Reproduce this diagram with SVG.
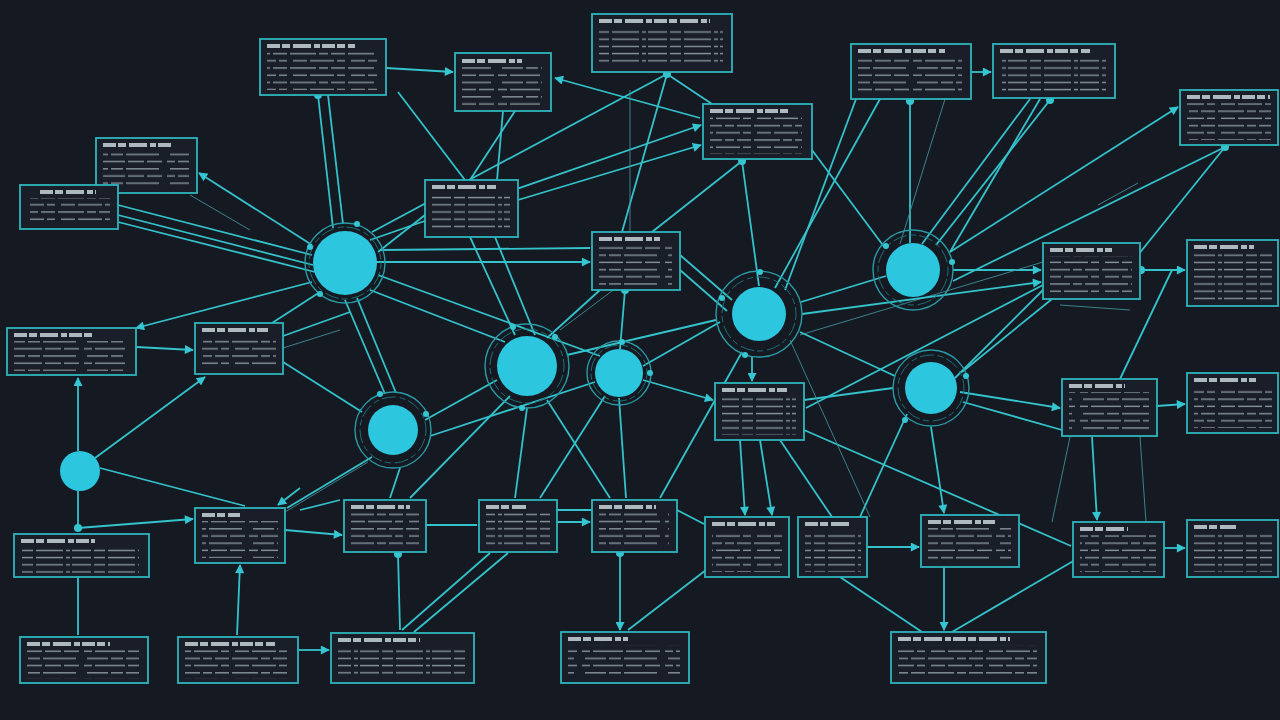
<svg xmlns="http://www.w3.org/2000/svg" width="1280" height="720" viewBox="0 0 1280 720">
<defs>
<style>
.e{stroke:#34c2cb;stroke-width:1.8;fill:none}
.t{stroke:#3f8f98;stroke-width:0.9;fill:none}
.bx{fill:#191e28;stroke:#2fb5bd;stroke-width:1.8}
.ttl{stroke:#aeb9bf;stroke-width:4;stroke-dasharray:13 2 8 3 18 3 6 2}
.bd{fill:url(#tx)}
.bd2{fill:url(#tx2)}
.bd3{fill:url(#tx3)}
.hub{fill:#2cc7df}
.ring{fill:none;stroke:#2a9ba6;stroke-width:1.4}
.ring2{fill:none;stroke:#1f6f78;stroke-width:1;stroke-dasharray:6 3 14 4}
.blob{fill:#34c6d2}
.tl{fill:#86929a}
</style>
<pattern id="tx" width="72" height="7.2" patternUnits="userSpaceOnUse">
<rect class="tl" x="0" y="2.5" width="19" height="1.4"/>
<rect class="tl" x="22" y="2.5" width="11" height="1.4"/>
<rect class="tl" x="36" y="2.5" width="27" height="1.4"/>
<rect class="tl" x="66" y="2.5" width="4" height="1.4"/>
</pattern>
<pattern id="tx2" width="58" height="14.4" patternUnits="userSpaceOnUse">
<rect class="tl" x="3" y="2.5" width="14" height="1.4"/>
<rect class="tl" x="20" y="2.5" width="24" height="1.4"/>
<rect class="tl" x="47" y="2.5" width="8" height="1.4"/>
<rect class="tl" x="0" y="9.7" width="26" height="1.4"/>
<rect class="tl" x="29" y="9.7" width="9" height="1.4"/>
<rect class="tl" x="41" y="9.7" width="14" height="1.4"/>
</pattern>
<pattern id="tx3" width="83" height="14.4" patternUnits="userSpaceOnUse">
<rect class="tl" x="0" y="2.5" width="9" height="1.4"/>
<rect class="tl" x="12" y="2.5" width="30" height="1.4"/>
<rect class="tl" x="45" y="2.5" width="16" height="1.4"/>
<rect class="tl" x="64" y="2.5" width="15" height="1.4"/>
<rect class="tl" x="4" y="9.7" width="21" height="1.4"/>
<rect class="tl" x="28" y="9.7" width="12" height="1.4"/>
<rect class="tl" x="43" y="9.7" width="33" height="1.4"/>
</pattern>
<marker id="ar" viewBox="0 0 10 10" refX="9" refY="5" markerWidth="10" markerHeight="9" markerUnits="userSpaceOnUse" orient="auto-start-reverse">
<path d="M0,0 L10,5 L0,10 z" fill="#34c6d2"/>
</marker>
<marker id="dt" viewBox="0 0 10 10" refX="5" refY="5" markerWidth="8" markerHeight="8" markerUnits="userSpaceOnUse">
<circle cx="5" cy="5" r="5" fill="#34c6d2"/>
</marker>
</defs>
<rect width="1280" height="720" fill="#151922"/>

<g id="connectors">
<line class="e" x1="386" y1="68" x2="453" y2="72" marker-end="url(#ar)"/>
<line class="e" x1="318" y1="95" x2="333" y2="228" marker-start="url(#dt)"/>
<line class="e" x1="328" y1="95" x2="343" y2="224"/>
<line class="e" x1="398" y1="92" x2="465" y2="180"/>
<line class="e" x1="515" y1="111" x2="470" y2="180"/>
<line class="e" x1="503" y1="111" x2="497" y2="180"/>
<line class="e" x1="700" y1="118" x2="555" y2="78" marker-end="url(#ar)"/>
<line class="e" x1="667" y1="74" x2="622" y2="232" marker-start="url(#dt)"/>
<line class="e" x1="667" y1="74" x2="712" y2="104"/>
<line class="e" x1="372" y1="232" x2="667" y2="74"/>
<line class="e" x1="370" y1="240" x2="701" y2="125" marker-end="url(#ar)"/>
<line class="e" x1="518" y1="200" x2="701" y2="145" marker-end="url(#ar)"/>
<line class="t" x1="630" y1="90" x2="630" y2="232"/>
<line class="e" x1="742" y1="161" x2="759" y2="286" marker-start="url(#dt)"/>
<line class="e" x1="742" y1="161" x2="652" y2="232"/>
<line class="e" x1="812" y1="150" x2="885" y2="248"/>
<line class="e" x1="971" y1="72" x2="991" y2="72" marker-end="url(#ar)"/>
<line class="e" x1="910" y1="101" x2="910" y2="243" marker-start="url(#dt)"/>
<line class="e" x1="880" y1="99" x2="775" y2="288"/>
<line class="t" x1="945" y1="99" x2="900" y2="244"/>
<line class="e" x1="785" y1="290" x2="856" y2="99"/>
<line class="e" x1="1050" y1="100" x2="936" y2="245" marker-start="url(#dt)"/>
<line class="e" x1="1030" y1="99" x2="922" y2="244"/>
<line class="e" x1="1040" y1="99" x2="950" y2="252"/>
<line class="e" x1="950" y1="252" x2="1178" y2="107" marker-end="url(#ar)"/>
<line class="e" x1="1225" y1="147" x2="1138" y2="255" marker-start="url(#dt)"/>
<line class="e" x1="1225" y1="147" x2="953" y2="281"/>
<line class="t" x1="1098" y1="205" x2="1138" y2="183"/>
<line class="e" x1="953" y1="270" x2="1041" y2="270" marker-end="url(#ar)"/>
<line class="e" x1="1141" y1="270" x2="1185" y2="270" marker-start="url(#dt)" marker-end="url(#ar)"/>
<line class="e" x1="1172" y1="270" x2="1120" y2="379"/>
<line class="e" x1="1043" y1="290" x2="955" y2="378"/>
<line class="e" x1="1052" y1="299" x2="962" y2="372"/>
<line class="e" x1="1043" y1="285" x2="806" y2="408"/>
<line class="t" x1="1043" y1="262" x2="800" y2="335"/>
<line class="t" x1="1060" y1="305" x2="1130" y2="310"/>
<line class="e" x1="960" y1="392" x2="1060" y2="408" marker-end="url(#ar)"/>
<line class="e" x1="1157" y1="406" x2="1185" y2="404" marker-end="url(#ar)"/>
<line class="e" x1="1092" y1="437" x2="1097" y2="520" marker-end="url(#ar)"/>
<line class="t" x1="1070" y1="437" x2="1052" y2="522"/>
<line class="t" x1="1140" y1="437" x2="1146" y2="522"/>
<line class="e" x1="1164" y1="548" x2="1185" y2="548" marker-end="url(#ar)"/>
<line class="e" x1="1075" y1="560" x2="952" y2="632"/>
<line class="e" x1="963" y1="402" x2="1062" y2="430"/>
<line class="e" x1="680" y1="255" x2="732" y2="300"/>
<line class="e" x1="680" y1="270" x2="727" y2="311"/>
<line class="e" x1="376" y1="262" x2="590" y2="262" marker-end="url(#ar)"/>
<line class="e" x1="380" y1="250" x2="590" y2="248"/>
<line class="e" x1="625" y1="290" x2="620" y2="349" marker-start="url(#dt)"/>
<line class="e" x1="600" y1="290" x2="547" y2="338"/>
<line class="e" x1="370" y1="290" x2="505" y2="342"/>
<line class="e" x1="345" y1="300" x2="385" y2="394"/>
<line class="e" x1="357" y1="298" x2="396" y2="393"/>
<line class="e" x1="378" y1="275" x2="600" y2="356"/>
<line class="e" x1="425" y1="420" x2="497" y2="380"/>
<line class="e" x1="372" y1="457" x2="287" y2="508"/>
<line class="e" x1="400" y1="468" x2="390" y2="498"/>
<line class="e" x1="430" y1="436" x2="595" y2="382"/>
<line class="e" x1="510" y1="396" x2="410" y2="498"/>
<line class="e" x1="527" y1="408" x2="515" y2="498"/>
<line class="e" x1="547" y1="400" x2="610" y2="498"/>
<line class="e" x1="605" y1="396" x2="540" y2="498"/>
<line class="e" x1="643" y1="380" x2="713" y2="400" marker-end="url(#ar)"/>
<line class="e" x1="752" y1="357" x2="752" y2="381" marker-end="url(#ar)"/>
<line class="e" x1="720" y1="322" x2="643" y2="366"/>
<line class="e" x1="800" y1="332" x2="895" y2="376"/>
<line class="e" x1="801" y1="302" x2="886" y2="276"/>
<line class="e" x1="802" y1="314" x2="1041" y2="282" marker-end="url(#ar)"/>
<line class="e" x1="567" y1="355" x2="716" y2="320"/>
<line class="e" x1="740" y1="440" x2="745" y2="515" marker-end="url(#ar)"/>
<line class="e" x1="760" y1="440" x2="772" y2="515" marker-end="url(#ar)"/>
<line class="e" x1="780" y1="440" x2="832" y2="517"/>
<line class="e" x1="804" y1="430" x2="1071" y2="546"/>
<line class="e" x1="804" y1="400" x2="893" y2="388"/>
<line class="e" x1="907" y1="414" x2="860" y2="517"/>
<line class="e" x1="931" y1="427" x2="944" y2="513" marker-end="url(#ar)"/>
<line class="e" x1="867" y1="547" x2="919" y2="547" marker-end="url(#ar)"/>
<line class="e" x1="944" y1="567" x2="944" y2="630" marker-end="url(#ar)"/>
<line class="e" x1="840" y1="577" x2="922" y2="632"/>
<line class="e" x1="620" y1="553" x2="620" y2="630" marker-start="url(#dt)" marker-end="url(#ar)"/>
<line class="e" x1="706" y1="570" x2="628" y2="630"/>
<line class="e" x1="677" y1="510" x2="704" y2="524"/>
<line class="e" x1="619" y1="398" x2="626" y2="498"/>
<line class="e" x1="742" y1="352" x2="660" y2="498"/>
<line class="t" x1="790" y1="340" x2="870" y2="517"/>
<line class="t" x1="560" y1="330" x2="680" y2="240"/>
<line class="e" x1="78" y1="378" x2="78" y2="451" marker-start="url(#ar)"/>
<line class="e" x1="95" y1="458" x2="205" y2="377" marker-end="url(#ar)"/>
<line class="e" x1="100" y1="468" x2="245" y2="506"/>
<line class="e" x1="78" y1="491" x2="78" y2="528"/>
<line class="e" x1="78" y1="528" x2="193" y2="519" marker-start="url(#dt)" marker-end="url(#ar)"/>
<line class="e" x1="78" y1="577" x2="78" y2="635"/>
<line class="e" x1="240" y1="565" x2="237" y2="635" marker-start="url(#ar)"/>
<line class="e" x1="285" y1="530" x2="342" y2="535" marker-end="url(#ar)"/>
<line class="e" x1="300" y1="488" x2="278" y2="505" marker-end="url(#ar)"/>
<line class="e" x1="426" y1="525" x2="477" y2="525"/>
<line class="e" x1="557" y1="510" x2="592" y2="510"/>
<line class="e" x1="557" y1="522" x2="590" y2="522" marker-end="url(#ar)"/>
<line class="e" x1="398" y1="554" x2="400" y2="630" marker-start="url(#dt)"/>
<line class="e" x1="490" y1="553" x2="402" y2="630"/>
<line class="e" x1="508" y1="553" x2="414" y2="632"/>
<line class="e" x1="298" y1="650" x2="329" y2="650" marker-end="url(#ar)"/>
<line class="e" x1="312" y1="282" x2="136" y2="328" marker-end="url(#ar)"/>
<line class="e" x1="136" y1="347" x2="193" y2="350" marker-end="url(#ar)"/>
<line class="e" x1="320" y1="292" x2="272" y2="323"/>
<line class="e" x1="283" y1="336" x2="350" y2="312"/>
<line class="e" x1="283" y1="362" x2="362" y2="412"/>
<line class="t" x1="283" y1="348" x2="340" y2="330"/>
<line class="e" x1="118" y1="205" x2="312" y2="255"/>
<line class="e" x1="118" y1="215" x2="313" y2="265"/>
<line class="e" x1="118" y1="222" x2="315" y2="272"/>
<line class="e" x1="312" y1="245" x2="199" y2="173" marker-end="url(#ar)"/>
<line class="t" x1="190" y1="195" x2="250" y2="230"/>
<line class="e" x1="425" y1="215" x2="378" y2="252"/>
<line class="e" x1="470" y1="237" x2="515" y2="335"/>
<line class="e" x1="495" y1="237" x2="535" y2="335"/>
<line class="e" x1="300" y1="510" x2="340" y2="500"/>
<line class="t" x1="285" y1="512" x2="368" y2="462"/>
</g>

<g id="n1"><rect class="bx" x="260" y="39" width="126" height="56"/><line class="ttl" x1="267" y1="46" x2="355" y2="46"/><rect class="bd2" x="267" y="52" width="110" height="38"/></g>
<g id="n2"><rect class="bx" x="455" y="53" width="96" height="58"/><line class="ttl" x1="462" y1="61" x2="522" y2="61"/><rect class="bd3" x="462" y="67" width="80" height="39"/></g>
<g id="n3"><rect class="bx" x="592" y="14" width="140" height="58"/><line class="ttl" x1="599" y1="21" x2="710" y2="21"/><rect class="bd" x="599" y="28" width="124" height="38"/></g>
<g id="n4"><rect class="bx" x="703" y="104" width="109" height="55"/><line class="ttl" x1="710" y1="111" x2="790" y2="111"/><rect class="bd2" x="710" y="117" width="92" height="37"/></g>
<g id="n5"><rect class="bx" x="851" y="44" width="120" height="55"/><line class="ttl" x1="858" y1="51" x2="945" y2="51"/><rect class="bd3" x="858" y="57" width="104" height="37"/></g>
<g id="n6"><rect class="bx" x="993" y="44" width="122" height="54"/><line class="ttl" x1="1000" y1="51" x2="1090" y2="51"/><rect class="bd" x="1000" y="57" width="106" height="36"/></g>
<g id="n7"><rect class="bx" x="1180" y="90" width="98" height="55"/><line class="ttl" x1="1187" y1="97" x2="1270" y2="97"/><rect class="bd2" x="1187" y="103" width="84" height="37"/></g>
<g id="n8"><rect class="bx" x="96" y="138" width="101" height="55"/><line class="ttl" x1="103" y1="145" x2="172" y2="145"/><rect class="bd3" x="103" y="151" width="86" height="37"/></g>
<g id="n9"><rect class="bx" x="20" y="185" width="98" height="44"/><line class="ttl" x1="40" y1="192" x2="96" y2="192"/><rect class="bd2" x="30" y="198" width="80" height="27"/></g>
<g id="n10"><rect class="bx" x="425" y="180" width="93" height="57"/><line class="ttl" x1="432" y1="187" x2="496" y2="187"/><rect class="bd" x="432" y="193" width="78" height="39"/></g>
<g id="n11"><rect class="bx" x="592" y="232" width="88" height="58"/><line class="ttl" x1="599" y1="239" x2="660" y2="239"/><rect class="bd3" x="599" y="245" width="73" height="40"/></g>
<g id="n12"><rect class="bx" x="1043" y="243" width="97" height="56"/><line class="ttl" x1="1050" y1="250" x2="1112" y2="250"/><rect class="bd2" x="1050" y="256" width="82" height="38"/></g>
<g id="n13"><rect class="bx" x="1187" y="240" width="91" height="66"/><line class="ttl" x1="1194" y1="247" x2="1254" y2="247"/><rect class="bd" x="1194" y="253" width="78" height="48"/></g>
<g id="n14"><rect class="bx" x="7" y="328" width="129" height="47"/><line class="ttl" x1="14" y1="335" x2="92" y2="335"/><rect class="bd3" x="14" y="341" width="112" height="30"/></g>
<g id="n15"><rect class="bx" x="195" y="323" width="88" height="51"/><line class="ttl" x1="202" y1="330" x2="268" y2="330"/><rect class="bd2" x="202" y="336" width="74" height="33"/></g>
<g id="n16"><rect class="bx" x="715" y="383" width="89" height="57"/><line class="ttl" x1="722" y1="390" x2="787" y2="390"/><rect class="bd" x="722" y="396" width="74" height="39"/></g>
<g id="n17"><rect class="bx" x="1062" y="379" width="95" height="57"/><line class="ttl" x1="1069" y1="386" x2="1125" y2="386"/><rect class="bd3" x="1069" y="392" width="80" height="39"/></g>
<g id="n18"><rect class="bx" x="1187" y="373" width="91" height="60"/><line class="ttl" x1="1194" y1="380" x2="1256" y2="380"/><rect class="bd2" x="1194" y="386" width="78" height="42"/></g>
<g id="n19"><rect class="bx" x="14" y="534" width="135" height="43"/><line class="ttl" x1="21" y1="541" x2="95" y2="541"/><rect class="bd" x="21" y="547" width="118" height="26"/></g>
<g id="n20"><rect class="bx" x="195" y="508" width="90" height="55"/><line class="ttl" x1="202" y1="515" x2="240" y2="515"/><rect class="bd3" x="202" y="521" width="76" height="37"/></g>
<g id="n21"><rect class="bx" x="344" y="500" width="82" height="52"/><line class="ttl" x1="351" y1="507" x2="410" y2="507"/><rect class="bd2" x="351" y="513" width="68" height="34"/></g>
<g id="n22"><rect class="bx" x="479" y="500" width="78" height="52"/><line class="ttl" x1="486" y1="507" x2="526" y2="507"/><rect class="bd" x="486" y="513" width="64" height="34"/></g>
<g id="n23"><rect class="bx" x="592" y="500" width="85" height="52"/><line class="ttl" x1="599" y1="507" x2="656" y2="507"/><rect class="bd3" x="599" y="513" width="70" height="34"/></g>
<g id="n24"><rect class="bx" x="705" y="517" width="84" height="60"/><line class="ttl" x1="712" y1="524" x2="775" y2="524"/><rect class="bd2" x="712" y="530" width="70" height="42"/></g>
<g id="n25"><rect class="bx" x="798" y="517" width="69" height="60"/><line class="ttl" x1="805" y1="524" x2="852" y2="524"/><rect class="bd" x="805" y="530" width="56" height="42"/></g>
<g id="n26"><rect class="bx" x="921" y="515" width="98" height="52"/><line class="ttl" x1="928" y1="522" x2="995" y2="522"/><rect class="bd3" x="928" y="528" width="83" height="34"/></g>
<g id="n27"><rect class="bx" x="1073" y="522" width="91" height="55"/><line class="ttl" x1="1080" y1="529" x2="1128" y2="529"/><rect class="bd2" x="1080" y="535" width="76" height="37"/></g>
<g id="n28"><rect class="bx" x="1187" y="520" width="91" height="57"/><line class="ttl" x1="1194" y1="527" x2="1236" y2="527"/><rect class="bd" x="1194" y="533" width="78" height="39"/></g>
<g id="n29"><rect class="bx" x="20" y="637" width="128" height="46"/><line class="ttl" x1="27" y1="644" x2="110" y2="644"/><rect class="bd3" x="27" y="650" width="112" height="29"/></g>
<g id="n30"><rect class="bx" x="178" y="637" width="120" height="46"/><line class="ttl" x1="185" y1="644" x2="275" y2="644"/><rect class="bd2" x="185" y="650" width="104" height="29"/></g>
<g id="n31"><rect class="bx" x="331" y="633" width="143" height="50"/><line class="ttl" x1="338" y1="640" x2="420" y2="640"/><rect class="bd" x="338" y="646" width="127" height="32"/></g>
<g id="n32"><rect class="bx" x="561" y="632" width="128" height="51"/><line class="ttl" x1="568" y1="639" x2="628" y2="639"/><rect class="bd3" x="568" y="645" width="112" height="33"/></g>
<g id="n33"><rect class="bx" x="891" y="632" width="155" height="51"/><line class="ttl" x1="898" y1="639" x2="1010" y2="639"/><rect class="bd2" x="898" y="645" width="139" height="33"/></g>

<g id="h1"><circle class="ring" cx="345" cy="263" r="40"/><circle class="ring2" cx="345" cy="263" r="36"/><circle class="hub" cx="345" cy="263" r="32"/><circle class="blob" cx="357" cy="224" r="3"/><circle class="blob" cx="310" cy="247" r="3"/><circle class="blob" cx="320" cy="294" r="3"/></g>
<g id="h2"><circle class="ring" cx="527" cy="366" r="42"/><circle class="ring2" cx="527" cy="366" r="37"/><circle class="hub" cx="527" cy="366" r="30"/><circle class="blob" cx="513" cy="327" r="3"/><circle class="blob" cx="555" cy="337" r="3"/><circle class="blob" cx="522" cy="408" r="3"/></g>
<g id="h3"><circle class="ring" cx="619" cy="373" r="32"/><circle class="ring2" cx="619" cy="373" r="28"/><circle class="hub" cx="619" cy="373" r="24"/><circle class="blob" cx="622" cy="342" r="3"/><circle class="blob" cx="650" cy="373" r="3"/></g>
<g id="h4"><circle class="ring" cx="759" cy="314" r="43"/><circle class="ring2" cx="759" cy="314" r="37"/><circle class="hub" cx="759" cy="314" r="27"/><circle class="blob" cx="722" cy="298" r="3"/><circle class="blob" cx="760" cy="272" r="3"/><circle class="blob" cx="745" cy="355" r="3"/></g>
<g id="h5"><circle class="ring" cx="913" cy="270" r="40"/><circle class="ring2" cx="913" cy="270" r="35"/><circle class="hub" cx="913" cy="270" r="27"/><circle class="blob" cx="886" cy="246" r="3"/><circle class="blob" cx="952" cy="262" r="3"/></g>
<g id="h6"><circle class="ring" cx="931" cy="388" r="38"/><circle class="ring2" cx="931" cy="388" r="33"/><circle class="hub" cx="931" cy="388" r="26"/><circle class="blob" cx="905" cy="420" r="3"/><circle class="blob" cx="966" cy="376" r="3"/></g>
<g id="h7"><circle class="ring" cx="393" cy="430" r="38"/><circle class="ring2" cx="393" cy="430" r="33"/><circle class="hub" cx="393" cy="430" r="25"/><circle class="blob" cx="380" cy="394" r="3"/><circle class="blob" cx="426" cy="414" r="3"/></g>
<g id="h8"><circle class="hub" cx="80" cy="471" r="20"/></g>
</svg>
